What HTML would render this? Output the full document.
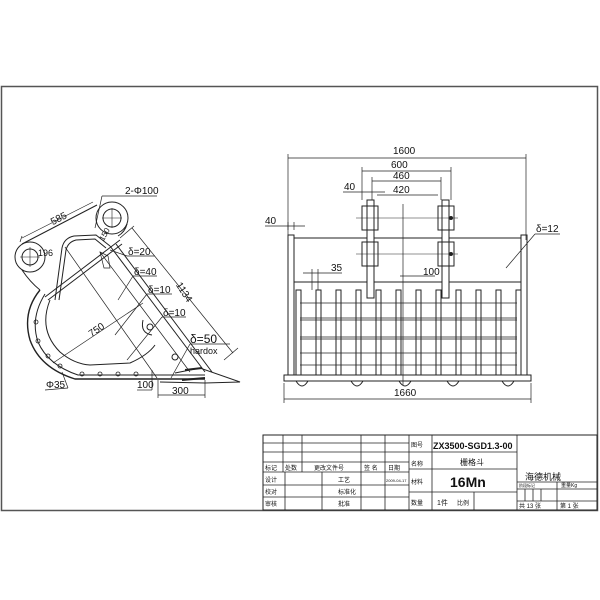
<!DOCTYPE html>
<html><head><meta charset="utf-8"><style>
html,body{margin:0;padding:0;background:#fff}
svg{display:block}
text{font-family:"Liberation Sans","Noto Sans CJK SC",sans-serif;fill:#111}
</style></head><body>
<svg width="600" height="600" viewBox="0 0 600 600" xmlns="http://www.w3.org/2000/svg">
<rect width="600" height="600" fill="#fff"/>
<g fill="none" stroke="#222" stroke-width="1">
<!-- frame -->
<rect x="1.5" y="86.5" width="596" height="424" stroke="#555" stroke-width="1.5"/>

<!-- ========== LEFT: bucket side view ========== -->
<circle cx="30" cy="257" r="15"/>
<circle cx="30" cy="257" r="8"/>
<circle cx="112" cy="218" r="16"/>
<circle cx="112" cy="218" r="9"/>
<line x1="20" y1="257" x2="40" y2="257" stroke-width="0.6"/><line x1="30" y1="247" x2="30" y2="267" stroke-width="0.6"/>
<line x1="102" y1="218" x2="122" y2="218" stroke-width="0.6"/><line x1="112" y1="208" x2="112" y2="228" stroke-width="0.6"/>
<!-- link plate -->
<path d="M22 244 L97 205"/>
<path d="M127 224 Q125 232 118 236"/>
<path d="M22 270 Q30 282 40 290"/>
<!-- outer shell -->
<path d="M40 290 Q22 312 30 340 Q40 368 75 379 L205 379" stroke-width="1.4"/>
<path d="M45 294 Q30 318 38 342 Q48 365 78 375 L205 375"/>
<!-- inner cavity -->
<path d="M50 300 Q38 330 60 352 Q74 364 90 365 L130 363 Q148 355 155 345"/>
<!-- rib -->
<path d="M55 300 L62 248 Q64 238 74 236 L96 235 L110 246"/>
<path d="M59 300 L66 250 Q68 242 76 240 L95 239 L106 248"/>
<!-- top plate -->
<path d="M45 297 L120 240"/><path d="M48 300 L122 244"/>
<!-- front plate -->
<path d="M110 246 L205 372"/><path d="M116 244 L212 372"/>
<path d="M100 252 L190 372" stroke-width="0.7"/>
<!-- side reinforcement small -->
<path d="M100 252 L108 256 L110 268 L104 268 Z" stroke-width="0.7"/>
<circle cx="150" cy="327" r="3"/><circle cx="175" cy="357" r="3"/>
<path d="M143 320 Q140 333 152 335"/>
<!-- holes along back -->
<g stroke-width="0.8">
<circle cx="36" cy="322" r="2"/><circle cx="38" cy="341" r="2"/><circle cx="48" cy="356" r="2"/><circle cx="60" cy="366" r="2"/>
<circle cx="82" cy="374" r="2"/><circle cx="100" cy="374" r="2"/><circle cx="118" cy="374" r="2"/><circle cx="136" cy="374" r="2"/>
</g>
<!-- tooth -->
<path d="M175 373 L200 368 L240 382 L205 383 L160 382" />
<path d="M182 380 L205 378" stroke-width="2"/>
<line x1="185" y1="370" x2="202" y2="368" stroke-width="2"/>
<!-- dims -->
<g stroke-width="0.7">
<line x1="22" y1="238" x2="93" y2="202"/>
<line x1="20" y1="242" x2="22" y2="236"/>
<line x1="132" y1="228" x2="233" y2="353"/>
<line x1="120" y1="238" x2="134" y2="226"/><line x1="224" y1="360" x2="238" y2="348"/>
<line x1="53" y1="363" x2="143" y2="303"/>
<line x1="65" y1="247" x2="157" y2="378"/>
<line x1="158" y1="395" x2="205" y2="395"/>
<line x1="158" y1="380" x2="158" y2="398"/><line x1="205" y1="380" x2="205" y2="398"/>
<line x1="152" y1="370" x2="152" y2="390"/>
<line x1="137" y1="390" x2="152" y2="390"/>
<line x1="62" y1="372" x2="68" y2="388"/><line x1="45" y1="390" x2="68" y2="388"/>
<line x1="102" y1="196" x2="157" y2="196"/>
<line x1="102" y1="196" x2="95" y2="228"/>
<line x1="127" y1="256" x2="155" y2="256"/><line x1="127" y1="256" x2="110" y2="250"/>
<line x1="133" y1="276" x2="157" y2="276"/><line x1="133" y1="276" x2="118" y2="300"/>
<line x1="147" y1="294" x2="172" y2="294"/><line x1="147" y1="294" x2="115" y2="335"/>
<line x1="162" y1="317" x2="186" y2="317"/><line x1="162" y1="317" x2="127" y2="360"/>
<line x1="190" y1="344" x2="230" y2="344"/><line x1="190" y1="344" x2="171" y2="378"/>
</g>
<!-- ========== RIGHT: front view ========== -->
<g stroke-width="0.7">
<line x1="288" y1="158" x2="526" y2="158"/>
<line x1="288" y1="154" x2="288" y2="240"/><line x1="526" y1="154" x2="526" y2="240"/>
<line x1="362" y1="171" x2="451" y2="171"/>
<line x1="362" y1="167" x2="362" y2="200"/><line x1="451" y1="167" x2="451" y2="200"/>
<line x1="372" y1="181" x2="441" y2="181"/>
<line x1="372" y1="177" x2="372" y2="200"/><line x1="441" y1="177" x2="441" y2="200"/>
<line x1="377" y1="195" x2="438" y2="195"/>
<line x1="343" y1="192" x2="385" y2="192"/>
<line x1="265" y1="226" x2="305" y2="226"/><line x1="288" y1="222" x2="288" y2="230"/><line x1="294" y1="222" x2="294" y2="230"/>
<line x1="403" y1="204" x2="403" y2="385"/>
<line x1="303" y1="273" x2="342" y2="273"/><line x1="312" y1="269" x2="312" y2="290"/><line x1="318" y1="269" x2="318" y2="290"/>
<line x1="400" y1="276" x2="435" y2="276"/>
<line x1="284" y1="399" x2="531" y2="399"/>
<line x1="284" y1="383" x2="284" y2="403"/><line x1="531" y1="383" x2="531" y2="403"/>
<line x1="535" y1="234" x2="560" y2="234"/><line x1="535" y1="234" x2="506" y2="268"/>
</g>
<!-- body -->
<rect x="288" y="235" width="6" height="140"/>
<rect x="521" y="235" width="6" height="140"/>
<line x1="294" y1="238" x2="521" y2="238"/>
<line x1="294" y1="282" x2="521" y2="282"/>
<rect x="284" y="375" width="247" height="6"/>
<g>
<rect x="296" y="290" width="5" height="85"/><rect x="316" y="290" width="5" height="85"/>
<rect x="336" y="290" width="5" height="85"/><rect x="356" y="290" width="5" height="85"/>
<rect x="376" y="290" width="5" height="85"/><rect x="396" y="290" width="5" height="85"/>
<rect x="416" y="290" width="5" height="85"/><rect x="436" y="290" width="5" height="85"/>
<rect x="456" y="290" width="5" height="85"/><rect x="476" y="290" width="5" height="85"/>
<rect x="496" y="290" width="5" height="85"/><rect x="516" y="290" width="5" height="85"/>
</g>
<g stroke-width="0.7">
<line x1="300" y1="303" x2="517" y2="303"/><line x1="300" y1="318" x2="517" y2="318"/><line x1="300" y1="320" x2="517" y2="320"/>
<line x1="300" y1="337" x2="517" y2="337"/><line x1="300" y1="339" x2="517" y2="339"/>
<line x1="300" y1="353" x2="517" y2="353"/><line x1="300" y1="365" x2="517" y2="365"/>
</g>
<!-- ears -->
<rect x="367" y="200" width="7" height="98" fill="#fff"/>
<rect x="362" y="206" width="16" height="24"/><rect x="362" y="242" width="16" height="24"/>
<rect x="442" y="200" width="7" height="98" fill="#fff"/>
<rect x="438" y="206" width="16" height="24"/><rect x="438" y="242" width="16" height="24"/>
<line x1="356" y1="218" x2="458" y2="218" stroke-width="0.6"/>
<line x1="356" y1="254" x2="458" y2="254" stroke-width="0.6"/>
<circle cx="451" cy="218" r="1.5" fill="#222"/><circle cx="451" cy="254" r="1.5" fill="#222"/>
<!-- bumps -->
<g>
<path d="M296 381 Q302 391 308 381"/><path d="M351 381 Q357 391 363 381"/><path d="M399 381 Q405 391 411 381"/><path d="M447 381 Q453 391 459 381"/><path d="M502 381 Q508 391 514 381"/>
</g>
<!-- ========== TITLE BLOCK ========== -->
<rect x="263" y="435" width="334" height="75"/>
<g stroke-width="0.8">
<line x1="283" y1="435" x2="283" y2="472"/><line x1="302" y1="435" x2="302" y2="472"/>
<line x1="361" y1="435" x2="361" y2="510"/><line x1="385" y1="435" x2="385" y2="510"/>
<line x1="409" y1="435" x2="409" y2="510"/><line x1="432" y1="435" x2="432" y2="510"/>
<line x1="517" y1="435" x2="517" y2="510"/>
<line x1="285" y1="472" x2="285" y2="510"/><line x1="322" y1="472" x2="322" y2="510"/>
<line x1="263" y1="443" x2="409" y2="443"/><line x1="263" y1="452" x2="409" y2="452"/>
<line x1="263" y1="462" x2="409" y2="462"/><line x1="263" y1="472" x2="409" y2="472"/>
<line x1="263" y1="485" x2="409" y2="485"/><line x1="263" y1="497" x2="409" y2="497"/>
<line x1="409" y1="452" x2="517" y2="452"/><line x1="409" y1="469" x2="517" y2="469"/>
<line x1="409" y1="492" x2="517" y2="492"/><line x1="474" y1="492" x2="474" y2="510"/>
<line x1="517" y1="482" x2="597" y2="482"/><line x1="517" y1="489" x2="597" y2="489"/>
<line x1="517" y1="501" x2="597" y2="501"/><line x1="557" y1="482" x2="557" y2="510"/>
<line x1="525" y1="489" x2="525" y2="501"/><line x1="533" y1="489" x2="533" y2="501"/><line x1="541" y1="489" x2="541" y2="501"/>
</g>
</g>

<!-- TEXT -->
<g font-size="10">
<text x="125" y="194">2-Φ100</text>
<text x="50" y="222" transform="rotate(-27 58 218)">585</text>
<text x="38" y="256" font-size="9">196</text>
<text x="98" y="240" font-size="8" transform="rotate(-60 102 236)">150</text>
<text x="128" y="255">δ=20</text>
<text x="134" y="275">δ=40</text>
<text x="148" y="293">δ=10</text>
<text x="163" y="316">δ=10</text>
<text x="190" y="343" font-size="12">δ=50</text>
<text x="190" y="354" font-size="9">hardox</text>
<text x="175" y="290" transform="rotate(57 180 288)">1134</text>
<text x="88" y="334" transform="rotate(-35 95 330)">750</text>
<text x="46" y="388">Φ35</text>
<text x="137" y="388">100</text>
<text x="172" y="394">300</text>
<text x="393" y="154">1600</text>
<text x="391" y="168">600</text>
<text x="393" y="179">460</text>
<text x="344" y="190">40</text>
<text x="393" y="193">420</text>
<text x="265" y="224">40</text>
<text x="536" y="232">δ=12</text>
<text x="331" y="271">35</text>
<text x="423" y="275">100</text>
<text x="394" y="396">1660</text>
</g>
<g font-size="6" font-family="Liberation Sans, Noto Sans CJK SC, sans-serif">
<text x="411" y="447">图号</text>
<text x="433" y="449" font-size="9" font-weight="bold" font-family="Liberation Serif, serif">ZX3500-SGD1.3-00</text>
<text x="411" y="466">名称</text>
<text x="460" y="465" font-size="8">栅格斗</text>
<text x="411" y="484">材料</text>
<text x="450" y="487" font-size="14" font-weight="bold" font-family="Liberation Serif, serif">16Mn</text>
<text x="411" y="505">数量</text>
<text x="437" y="505" font-size="7">1件</text>
<text x="457" y="505">比例</text>
<text x="525" y="480" font-size="9">海德机械</text>
<text x="265" y="470">标记</text><text x="285" y="470">处数</text><text x="314" y="470">更改文件号</text><text x="364" y="470">签 名</text><text x="388" y="470">日期</text>
<text x="265" y="482">设计</text><text x="338" y="482">工艺</text><text x="386" y="482" font-size="4">2009-04-17</text>
<text x="265" y="494">校对</text><text x="338" y="494">标准化</text>
<text x="265" y="506">审核</text><text x="338" y="506">批准</text>
<text x="519" y="487" font-size="4">阶段标记</text><text x="561" y="487" font-size="5">重量Kg</text>
<text x="519" y="508">共 13 张</text><text x="560" y="508">第 1 张</text>
</g>
</svg>
</body></html>
